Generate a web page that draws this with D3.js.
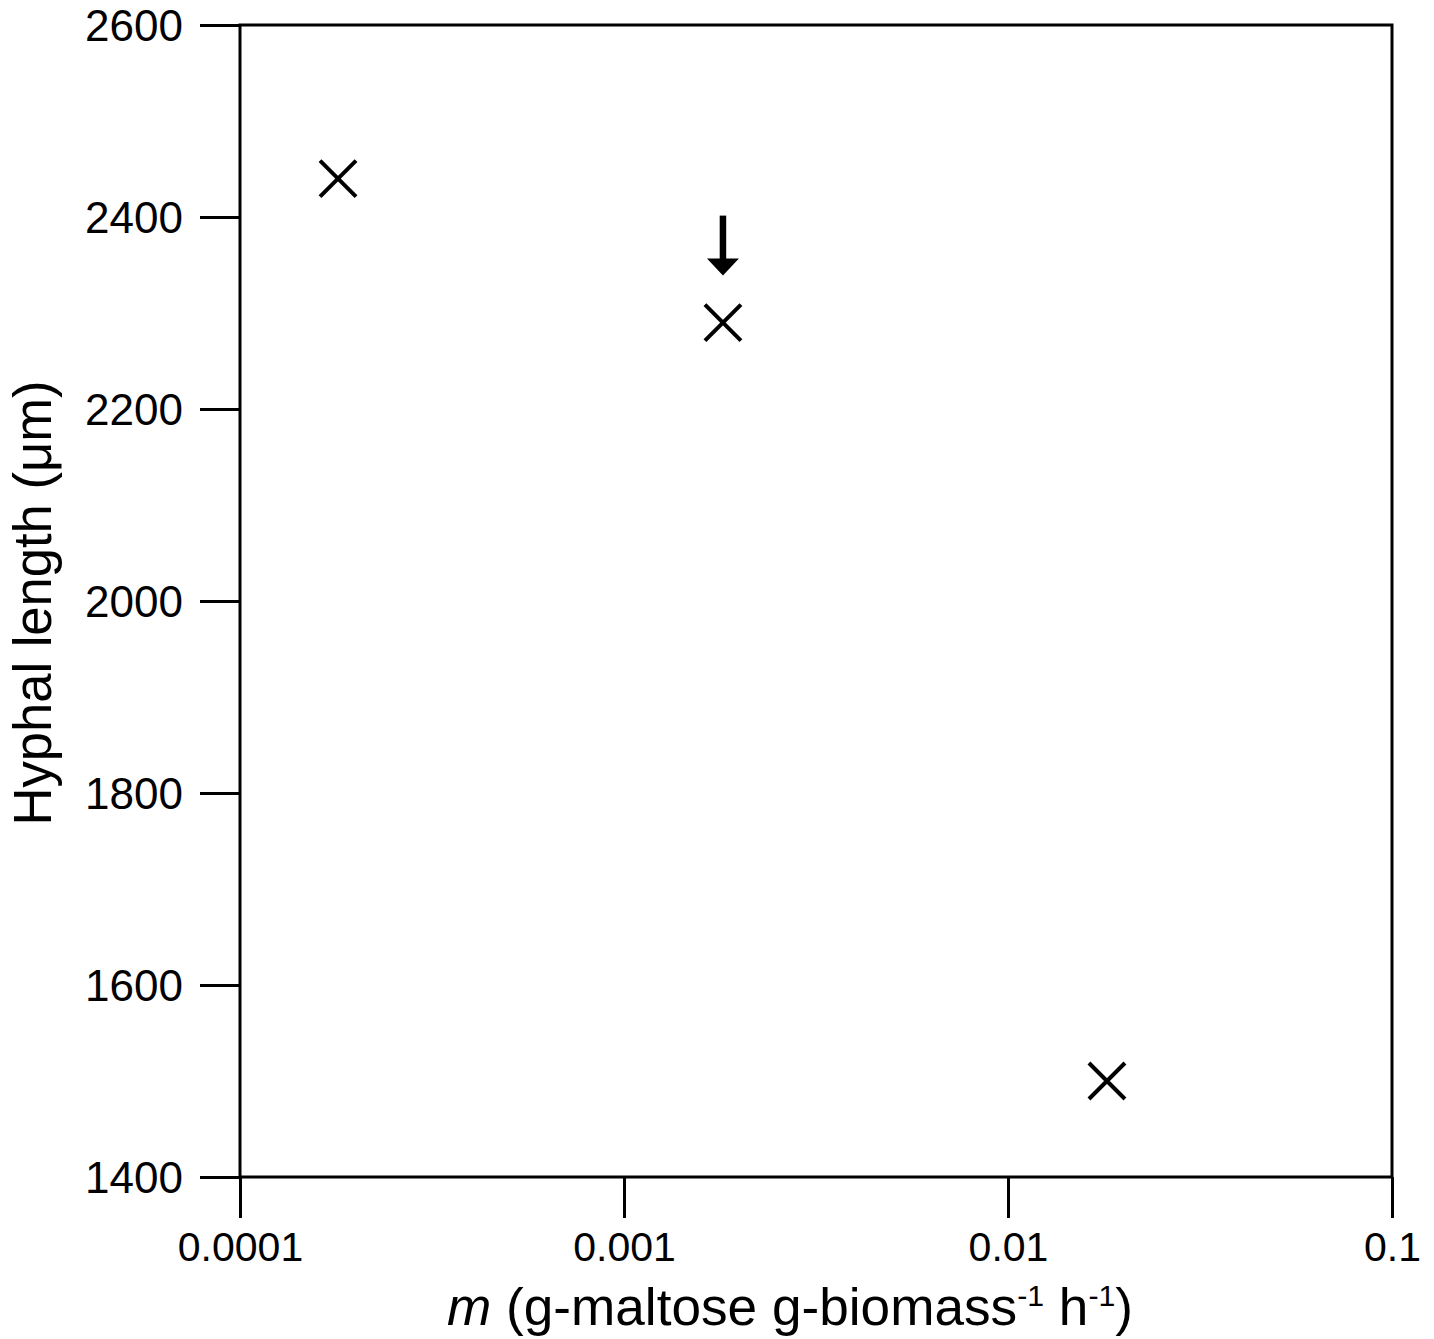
<!DOCTYPE html>
<html><head><meta charset="utf-8">
<script src="https://cdn.jsdelivr.net/npm/d3@7/dist/d3.min.js"></script>
<style>body{margin:0;background:#fff}svg{display:block}</style>
</head><body>
<script>
const mValues = [0.00018, 0.00181, 0.0181];
const hyphalLength = [2440, 2290, 1500];
const arrowTarget = [0.00181, 2290];
const xTicks = [0.0001, 0.001, 0.01, 0.1];
const xTickLabels = ["0.0001", "0.001", "0.01", "0.1"];
const yTicks = [1400, 1600, 1800, 2000, 2200, 2400, 2600];

(function(){
const W = 1434, H = 1339;
const pLeft = 240, pRight = 1392, pTop = 25, pBottom = 1177;
const svg = d3.select("body").append("svg").attr("width", W).attr("height", H);
const font = "Liberation Sans, Arial, sans-serif";

const x = d3.scaleLog().domain([0.0001, 0.1]).range([pLeft, pRight]);
const y = d3.scaleLinear().domain([1400, 2600]).range([pBottom, pTop]);

svg.append("rect").attr("x", pLeft).attr("y", pTop).attr("width", pRight-pLeft).attr("height", pBottom-pTop)
  .attr("fill", "none").attr("stroke", "#000").attr("stroke-width", 3);

const xAxis = svg.append("g").attr("transform", `translate(0,${pBottom})`)
  .call(d3.axisBottom(x).tickValues(xTicks).tickFormat((d,i)=>xTickLabels[i]).tickSize(41).tickSizeOuter(0).tickPadding(14));
const yAxis = svg.append("g").attr("transform", `translate(${pLeft},0)`)
  .call(d3.axisLeft(y).tickValues(yTicks).tickFormat(d3.format("d")).tickSize(40).tickSizeOuter(0).tickPadding(17));
[xAxis, yAxis].forEach(g => {
  g.select(".domain").remove();
  g.selectAll(".tick line").attr("stroke", "#000").attr("stroke-width", 3);
  g.selectAll(".tick text").attr("fill", "#000").style("font-family", font).style("font-size", "41px");
});
yAxis.selectAll(".tick text").attr("dy", "0.36em").style("font-size", "44px");

const s = 18;
const pts = mValues.map((m,i)=>[x(m), y(hyphalLength[i])]);
svg.append("g").selectAll("path").data(pts).join("path")
  .attr("d", d => `M${d[0]-s},${d[1]-s}L${d[0]+s},${d[1]+s}M${d[0]-s},${d[1]+s}L${d[0]+s},${d[1]-s}`)
  .attr("stroke", "#000").attr("stroke-width", 4).attr("fill", "none");

const ax = x(arrowTarget[0]), ay = y(arrowTarget[1]);
svg.append("line").attr("x1", ax).attr("x2", ax).attr("y1", ay-107).attr("y2", ay-62)
  .attr("stroke", "#000").attr("stroke-width", 6.5);
svg.append("path").attr("d", `M${ax-16},${ay-64}L${ax+16},${ay-64}L${ax},${ay-47}Z`).attr("fill", "#000");

svg.append("text").attr("transform", `translate(51,${(pTop+pBottom)/2 + 2}) rotate(-90)`)
  .attr("text-anchor", "middle").style("font-family", font).style("font-size", "54px")
  .attr("textLength", 445).attr("lengthAdjust", "spacingAndGlyphs")
  .text("Hyphal length (μm)");

const xl = svg.append("text").attr("x", 790).attr("y", 1325).attr("text-anchor", "middle")
  .style("font-family", font).style("font-size", "51px")
  .attr("textLength", 686).attr("lengthAdjust", "spacingAndGlyphs");
xl.append("tspan").style("font-style", "italic").text("m");
xl.append("tspan").text(" (g-maltose g-biomass");
xl.append("tspan").attr("dy", -19).style("font-size", "29px").text("-1");
xl.append("tspan").attr("dy", 19).text(" h");
xl.append("tspan").attr("dy", -19).style("font-size", "29px").text("-1");
xl.append("tspan").attr("dy", 19).text(")");
})();
</script>
</body></html>
